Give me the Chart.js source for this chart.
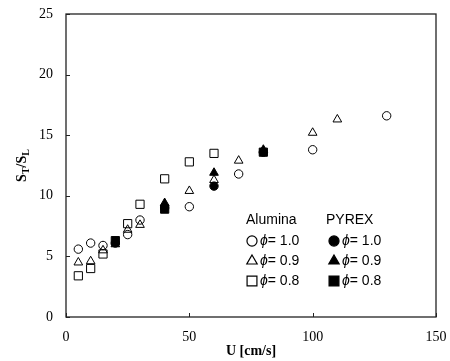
<!DOCTYPE html>
<html>
<head>
<meta charset="utf-8">
<script src="https://cdn.jsdelivr.net/npm/chart.js@4.4.1/dist/chart.umd.min.js"></script>
<style>
    body { margin: 0; background: #fff; }
    #wrap { width: 450px; height: 361px; position: relative; }
</style>
</head>
<body>
<div id="wrap"><canvas id="myChart" width="450" height="361"></canvas></div>
<script>
// datos
var xTicks = [0, 50, 100, 150];
var yTicks = [0, 5, 10, 15, 20, 25];

var aluU10 = [5, 10, 15, 25, 30, 50, 70, 100, 130];
var aluS10 = [5.6, 6.1, 5.9, 6.8, 8.0, 9.1, 11.8, 13.8, 16.6];
var aluU09 = [5, 10, 15, 25, 30, 50, 60, 70, 100, 110];
var aluS09 = [4.5, 4.6, 5.5, 7.2, 7.6, 10.4, 11.3, 12.9, 15.2, 16.3];
var aluU08 = [5, 10, 15, 25, 30, 40, 50, 60];
var aluS08 = [3.4, 4.0, 5.2, 7.7, 9.3, 11.4, 12.8, 13.5];

var pyrU10 = [20, 40, 60, 80];
var pyrS10 = [6.1, 9.0, 10.8, 13.6];
var pyrU09 = [20, 40, 60, 80];
var pyrS09 = [6.0, 9.4, 11.9, 13.8];
var pyrU08 = [20, 40, 80];
var pyrS08 = [6.3, 8.9, 13.6];

var labels = ['1.0', '0.9', '0.8'];

function pts(xs, ys) {
    var out = [];
    for (var i = 0; i < xs.length; i++) {
        out.push({x: xs[i], y: ys[i]});
    }
    return out;
}

var estilos = [
    {pointStyle: 'circle', radius: 4.2},
    {pointStyle: 'triangle', radius: 5},
    {pointStyle: 'rect', radius: 5.8}
];

function serie(name, data, st, filled) {
    return {
        label: name,
        data: data,
        pointStyle: st.pointStyle,
        pointRadius: st.radius,
        pointHoverRadius: st.radius,
        borderColor: '#000',
        borderWidth: 1,
        backgroundColor: filled ? '#000' : 'rgba(0,0,0,0)',
        showLine: false
    };
}

var datasets = [
    serie('Alumina 1.0', pts(aluU10, aluS10), estilos[0], false),
    serie('Alumina 0.9', pts(aluU09, aluS09), estilos[1], false),
    serie('Alumina 0.8', pts(aluU08, aluS08), estilos[2], false),
    serie('PYREX 1.0', pts(pyrU10, pyrS10), estilos[0], true),
    serie('PYREX 0.9', pts(pyrU09, pyrS09), estilos[1], true),
    serie('PYREX 0.8', pts(pyrU08, pyrS08), estilos[2], true)
];

var serif = '"Liberation Serif", "Times New Roman", serif';
var sans = '"Liberation Sans", Arial, sans-serif';

// marco, marcas interiores, titulo Y y leyenda
var extras = {
    id: 'extras',
    afterDraw: function (chart) {
        var ctx = chart.ctx;
        var a = chart.chartArea;
        var xs = chart.scales.x, ys = chart.scales.y;
        ctx.save();
        ctx.strokeStyle = '#222';
        ctx.lineWidth = 1.3;
        ctx.strokeRect(a.left, a.top, a.right - a.left, a.bottom - a.top);
        ctx.lineWidth = 1;
        ctx.beginPath();
        yTicks.forEach(function (v) {
            var py = Math.round(ys.getPixelForValue(v)) + 0.5;
            ctx.moveTo(a.left, py);
            ctx.lineTo(a.left + 4, py);
        });
        xTicks.forEach(function (v) {
            var px = Math.round(xs.getPixelForValue(v)) + 0.5;
            ctx.moveTo(px, a.bottom);
            ctx.lineTo(px, a.bottom - 4);
        });
        ctx.stroke();

        // titulo eje Y: S_T/S_L
        ctx.save();
        ctx.translate(22, (a.top + a.bottom) / 2);
        ctx.rotate(-Math.PI / 2);
        ctx.fillStyle = '#000';
        ctx.textBaseline = 'middle';
        var partes = [['S', 14, 0], ['T', 10, 4], ['/S', 14, 0], ['L', 10, 4]];
        var total = 0;
        partes.forEach(function (p) {
            ctx.font = 'bold ' + p[1] + 'px ' + serif;
            total += ctx.measureText(p[0]).width;
        });
        var cx = -total / 2;
        partes.forEach(function (p) {
            ctx.font = 'bold ' + p[1] + 'px ' + serif;
            ctx.fillText(p[0], cx, p[2]);
            cx += ctx.measureText(p[0]).width;
        });
        ctx.restore();

        // leyenda en dos columnas
        var cols = [
            {title: 'Alumina', tx: 246, mx: 252, filled: false},
            {title: 'PYREX', tx: 326, mx: 334, filled: true}
        ];
        var rowsY = [241, 261, 281];
        ctx.textBaseline = 'middle';
        cols.forEach(function (c) {
            ctx.fillStyle = '#000';
            ctx.font = '14px ' + sans;
            ctx.textAlign = 'left';
            ctx.fillText(c.title, c.tx, 220);
            for (var i = 0; i < 3; i++) {
                ctx.strokeStyle = '#000';
                ctx.fillStyle = c.filled ? '#000' : 'rgba(0,0,0,0)';
                ctx.lineWidth = 1.2;
                var r = estilos[i].radius * 1.2;
                Chart.helpers.drawPoint(ctx, {pointStyle: estilos[i].pointStyle, radius: r, rotation: 0, borderWidth: 1.2}, c.mx, rowsY[i]);
                ctx.fillStyle = '#000';
                ctx.font = 'italic 14px ' + sans;
                var x0 = c.mx + 8;
                ctx.fillText('\u03D5', x0, rowsY[i]);
                x0 += ctx.measureText('\u03D5').width;
                ctx.font = '14px ' + sans;
                ctx.fillText('= ' + labels[i], x0, rowsY[i]);
            }
        });
        ctx.restore();
    }
};

var ctx = document.getElementById('myChart').getContext('2d');
var chart = new Chart(ctx, {
    type: 'scatter',
    data: {datasets: datasets},
    options: {
        responsive: false,
        animation: false,
        events: [],
        layout: {padding: {top: 14, right: 14, left: 0, bottom: 0}},
        plugins: {legend: {display: false}, tooltip: {enabled: false}},
        scales: {
            x: {
                type: 'linear',
                min: 0, max: 150,
                afterBuildTicks: function (s) { s.ticks = xTicks.map(function (v) { return {value: v}; }); },
                afterFit: function (s) { s.height = 44; s.paddingLeft = 0; s.paddingRight = 0; },
                grid: {display: false, drawTicks: false},
                border: {display: false},
                ticks: {color: '#000', font: {family: serif, size: 14}, padding: 12, maxRotation: 0},
                title: {display: true, text: 'U [cm/s]', color: '#000', font: {family: serif, size: 14, weight: 'bold'}, padding: {top: 0, bottom: 1}}
            },
            y: {
                type: 'linear',
                min: 0, max: 25,
                afterBuildTicks: function (s) { s.ticks = yTicks.map(function (v) { return {value: v}; }); },
                afterFit: function (s) { s.width = 66; s.paddingTop = 0; s.paddingBottom = 0; },
                grid: {display: false, drawTicks: false},
                border: {display: false},
                ticks: {color: '#000', font: {family: serif, size: 14}, padding: 13}
            }
        }
    },
    plugins: [extras]
});
</script>
</body>
</html>
